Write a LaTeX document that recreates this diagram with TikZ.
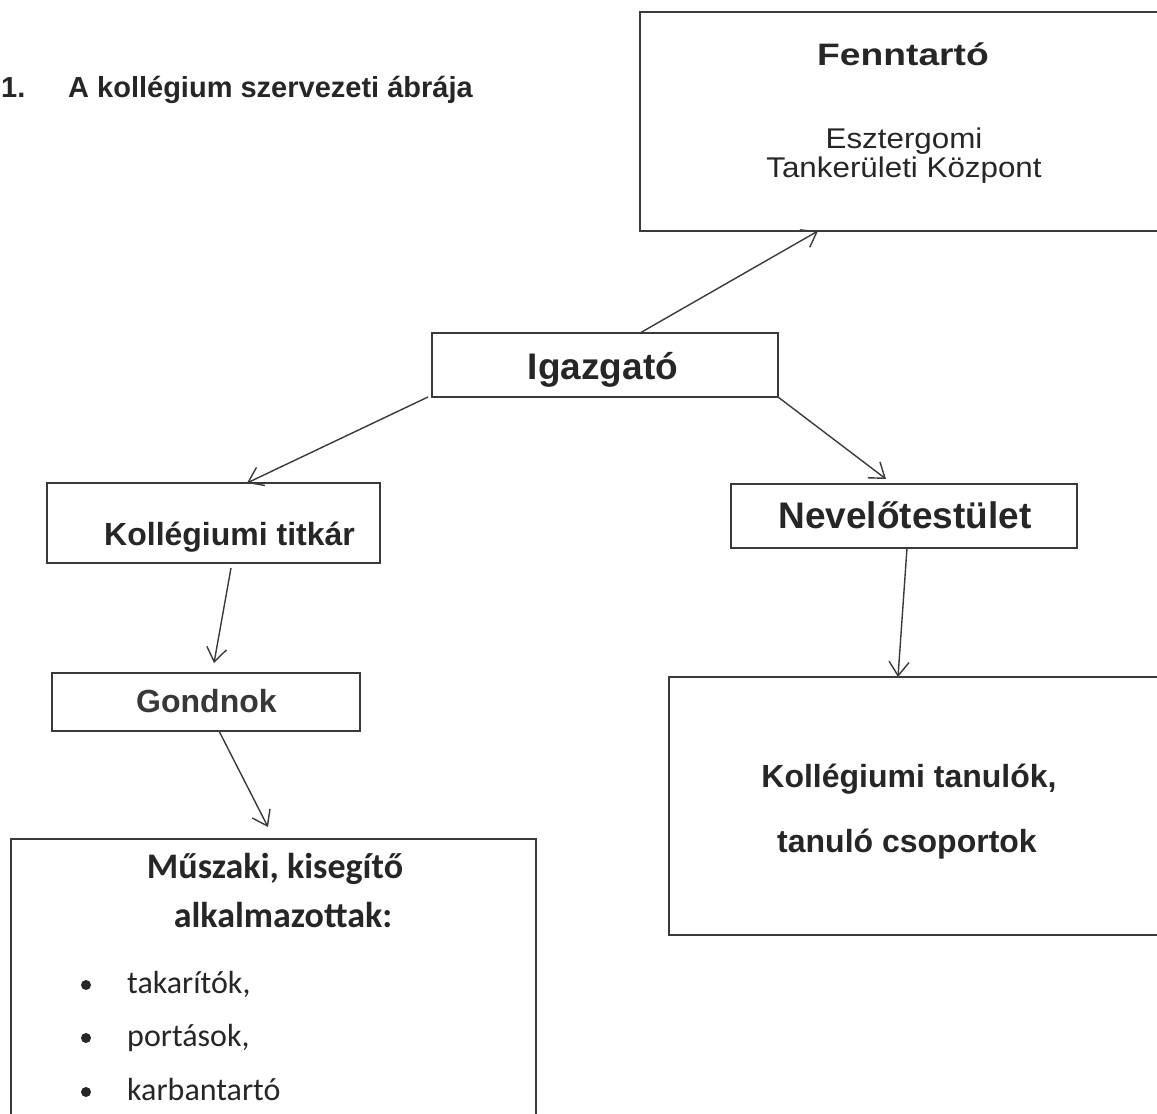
\documentclass[tikz,border=0pt]{standalone}
\usepackage{fontspec}
\setmainfont{Liberation Sans}
\newfontfamily\arialwide{Liberation Sans}[FakeStretch=1.2]
\newfontfamily\arialmid{Liberation Sans}[FakeStretch=1.1]
\newfontfamily\calib{Carlito}
\usetikzlibrary{arrows.meta}
\definecolor{linec}{HTML}{3A3A3A}
\definecolor{textc}{HTML}{262626}
\definecolor{textg}{HTML}{383838}
\tikzset{
  box/.style={draw=linec, line width=1.8pt, inner sep=0pt, outer sep=0pt, rectangle},
  conn/.style={draw=linec, line width=1.4pt, -{Straight Barb[length=14pt,width=20pt]}},
  lbl/.style={inner sep=0pt, text=textc, anchor=base},
  bigb/.style={font=\bfseries\fontsize{37}{42}\selectfont},
  medb/.style={font=\bfseries\fontsize{32}{38}\selectfont},
}
\begin{document}
\begin{tikzpicture}[x=1pt,y=-1pt]
\useasboundingbox (0,0) rectangle (1157,1114);
\clip (0,0) rectangle (1157,1114);
\fill[white] (0,0) rectangle (1157,1114);

% boxes
\node[box, minimum width=580pt, minimum height=219pt] (fenn) at (930,121.5) {};
\node[box, minimum width=346pt, minimum height=64pt] (igaz) at (605,365) {};
\node[box, minimum width=333pt, minimum height=80pt] (titkar) at (213.5,523) {};
\node[box, minimum width=308pt, minimum height=58pt] (gond) at (206,702) {};
\node[box, minimum width=525pt, minimum height=361pt] (musz) at (273.5,1019.5) {};
\node[box, minimum width=346pt, minimum height=64pt] (nevelo) at (904,516) {};
\node[box, minimum width=551pt, minimum height=258pt] (tanulo) at (944.5,806) {};

% title
\node[lbl, anchor=base west, font=\bfseries\fontsize{29}{34}\selectfont] (num) at (1,97) {1.};
\node[lbl, anchor=base west, font=\bfseries\fontsize{29}{34}\selectfont] (title) at (68,97) {A kollégium szervezeti ábrája};

% texts
\node[lbl, font=\arialwide\bfseries\fontsize{31}{36}\selectfont] (fennT) at (903,65) {Fenntartó};
\node[lbl, font=\arialmid\fontsize{28.5}{30}\selectfont] (fennA) at (904,148) {Esztergomi};
\node[lbl, font=\arialmid\fontsize{28.5}{30}\selectfont] (fennB) at (904,177) {Tankerületi Központ};
\node[lbl, bigb] (igazT) at (603,379) {Igazgató};
\node[lbl, bigb] (neveloT) at (905,528) {Nevelőtestület};
\node[lbl, medb, anchor=base west] (titkarT) at (104,545) {Kollégiumi titkár};
\node[lbl, medb, anchor=base west, text=textg] (gondT) at (136,712) {Gondnok};
\node[lbl, medb] (tanA) at (909,787) {Kollégiumi tanulók,};
\node[lbl, medb] (tanB) at (907,852) {tanuló csoportok};
\node[lbl, font=\calib\bfseries\fontsize{36}{40}\selectfont] (muszA) at (275,878) {Műszaki, kisegítő};
\node[lbl, font=\calib\bfseries\fontsize{36}{40}\selectfont] (muszB) at (283,927) {alkalmazottak:};
\node[lbl, anchor=base west, font=\calib\fontsize{32}{36}\selectfont] (it1) at (127,993) {takarítók,};
\node[lbl, anchor=base west, font=\calib\fontsize{32}{36}\selectfont] (it2) at (127,1046) {portások,};
\node[lbl, anchor=base west, font=\calib\fontsize{32}{36}\selectfont] (it3) at (127,1100) {karbantartó};
\fill[textc] (86,985) circle[radius=5pt];
\fill[textc] (86,1038) circle[radius=5pt];
\fill[textc] (86,1092) circle[radius=5pt];

% connectors
\draw[conn] ([xshift=208pt]igaz.north west) -- ([xshift=178pt]fenn.south west);
\draw[conn] ([xshift=-4pt]igaz.south west) -- ([xshift=200pt]titkar.north west);
\draw[conn] (igaz.south east) -- ([xshift=155pt,yshift=5pt]nevelo.north west);
\draw[conn] ([xshift=184pt,yshift=-5pt]titkar.south west) -- ([xshift=162pt,yshift=10pt]gond.north west);
\draw[conn] ([xshift=167pt]gond.south west) -- ([xshift=257pt,yshift=12pt]musz.north west);
\draw[conn] ([xshift=176pt]nevelo.south west) -- ([xshift=229pt]tanulo.north west);
\end{tikzpicture}
\end{document}
